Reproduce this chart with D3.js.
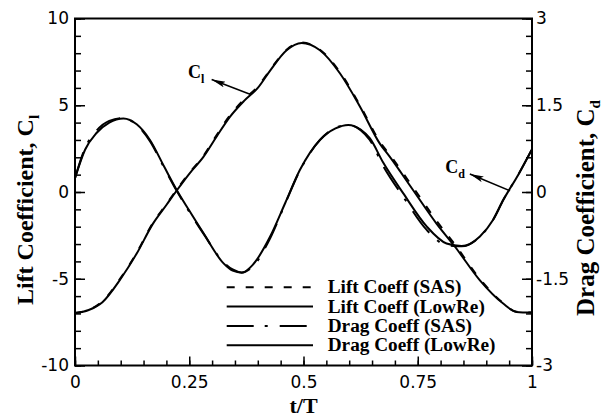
<!DOCTYPE html>
<html>
<head>
<meta charset="utf-8">
<script src="https://cdn.jsdelivr.net/npm/d3@7"></script>
<style>
  body { margin: 0; background: #fff; }
  svg { display: block; }
</style>
</head>
<body>
<svg id="chart"></svg>
<script>
// time (t/T) and values
var liftT     = [0, 0.03, 0.06, 0.1, 0.135, 0.17, 0.2, 0.223, 0.25, 0.281, 0.31, 0.339, 0.37, 0.4, 0.427, 0.463, 0.496, 0.536, 0.58, 0.624, 0.667, 0.689, 0.74, 0.791, 0.832, 0.886, 0.937, 0.966, 1];
var liftLowRe = [-6.98, -6.8, -6.35, -5.0, -3.55, -1.85, -0.75, 0.1, 1.05, 2.02, 3.2, 4.33, 5.25, 6.0, 7.0, 8.17, 8.59, 8.17, 6.83, 4.9, 2.79, 2.02, 0.1, -1.82, -3.17, -5.09, -6.43, -6.91, -6.95];
var liftSAS   = [-6.98, -6.8, -6.3, -4.95, -3.5, -1.8, -0.7, 0.15, 1.1, 2.08, 3.28, 4.42, 5.33, 6.08, 7.04, 8.2, 8.62, 8.2, 6.9, 4.98, 2.9, 2.14, 0.26, -1.66, -3.05, -5.02, -6.4, -6.9, -6.95];

var dragT     = [0, 0.022, 0.047, 0.075, 0.106, 0.135, 0.164, 0.195, 0.2225, 0.25, 0.281, 0.3246, 0.345, 0.365, 0.39, 0.427, 0.46, 0.492, 0.536, 0.57, 0.598, 0.625, 0.645, 0.675, 0.718, 0.77, 0.813, 0.846, 0.886, 0.915, 0.937, 0.97, 1];
var dragLowRe = [0.24, 0.73, 1.02, 1.2, 1.27, 1.17, 0.9, 0.44, 0.035, -0.32, -0.71, -1.23, -1.36, -1.395, -1.25, -0.77, -0.19, 0.38, 0.9, 1.1, 1.16, 1.08, 0.93, 0.5, -0.02, -0.6, -0.89, -0.934, -0.77, -0.48, -0.14, 0.3, 0.74];
var dragSAS   = [0.24, 0.76, 1.06, 1.23, 1.28, 1.16, 0.88, 0.42, 0.02, -0.34, -0.72, -1.21, -1.34, -1.39, -1.28, -0.8, -0.2, 0.37, 0.9, 1.11, 1.16, 1.07, 0.9, 0.44, -0.08, -0.66, -0.92, -0.94, -0.77, -0.48, -0.14, 0.3, 0.74];

var xTicks = [0, 0.25, 0.5, 0.75, 1];
var leftTicks = [-10, -5, 0, 5, 10];
var rightTicks = [-3, -1.5, 0, 1.5, 3];

var legendLabels = ["Lift Coeff (SAS)", "Lift Coeff (LowRe)", "Drag Coeff (SAS)", "Drag Coeff (LowRe)"];

var width = 604, height = 417;
var margin = { top: 18.5, right: 72, bottom: 51.5, left: 75 };
var w = width - margin.left - margin.right;
var h = height - margin.top - margin.bottom;

var svg = d3.select("#chart")
  .attr("width", width)
  .attr("height", height);

var g = svg.append("g")
  .attr("transform", "translate(" + margin.left + "," + margin.top + ")");

var x = d3.scaleLinear().domain([0, 1]).range([0, w]);
var yL = d3.scaleLinear().domain([-10, 10]).range([h, 0]);
var yR = d3.scaleLinear().domain([-3, 3]).range([h, 0]);

var fmt = function(d) { return String(d); };

// minor ticks
g.append("g")
  .attr("transform", "translate(0," + h + ")")
  .call(d3.axisBottom(x).tickValues(d3.range(0, 1.0001, 0.05)).tickSize(-5).tickSizeOuter(0).tickFormat(""));
g.append("g")
  .call(d3.axisLeft(yL).tickValues(d3.range(-10, 10.001, 1)).tickSize(-6).tickSizeOuter(0).tickFormat(""));
g.append("g")
  .attr("transform", "translate(" + w + ",0)")
  .call(d3.axisRight(yR).tickValues(d3.range(-3, 3.001, 0.3)).tickSize(-6).tickSizeOuter(0).tickFormat(""));

// major ticks + labels
g.append("g")
  .attr("class", "axis")
  .attr("transform", "translate(0," + h + ")")
  .call(d3.axisBottom(x).tickValues(xTicks).tickSize(-9).tickSizeOuter(0).tickPadding(10).tickFormat(fmt));
g.append("g")
  .attr("class", "axis")
  .call(d3.axisLeft(yL).tickValues(leftTicks).tickSize(-10).tickSizeOuter(0).tickPadding(6).tickFormat(fmt));
g.append("g")
  .attr("class", "axis")
  .attr("transform", "translate(" + w + ",0)")
  .call(d3.axisRight(yR).tickValues(rightTicks).tickSize(-10).tickSizeOuter(0).tickPadding(4).tickFormat(fmt));

g.selectAll(".tick line").attr("stroke", "#000").attr("stroke-width", 1.5);
g.selectAll(".domain").remove();
g.selectAll(".axis text")
  .attr("fill", "#000")
  .style("font-family", "'DejaVu Sans', sans-serif")
  .style("font-size", "17px");

// frame
g.append("rect")
  .attr("width", w)
  .attr("height", h)
  .attr("fill", "none")
  .attr("stroke", "#000")
  .attr("stroke-width", 2);

// curves
var liftLine = d3.line()
  .x(function(d) { return x(d[0]); })
  .y(function(d) { return yL(d[1]); })
  .curve(d3.curveMonotoneX);
var dragLine = d3.line()
  .x(function(d) { return x(d[0]); })
  .y(function(d) { return yR(d[1]); })
  .curve(d3.curveMonotoneX);

var series = [
  { line: liftLine, data: d3.zip(liftT, liftSAS), dash: "8,11" },
  { line: liftLine, data: d3.zip(liftT, liftLowRe), dash: null },
  { line: dragLine, data: d3.zip(dragT, dragSAS), dash: "27,11,3,12" },
  { line: dragLine, data: d3.zip(dragT, dragLowRe), dash: null }
];

series.forEach(function(s) {
  g.append("path")
    .datum(s.data)
    .attr("fill", "none")
    .attr("stroke", "#000")
    .attr("stroke-width", 2)
    .attr("stroke-dasharray", s.dash)
    .attr("d", s.line);
});

// legend
var legend = g.append("g").attr("transform", "translate(" + (226.7 - margin.left) + "," + (287.3 - margin.top) + ")");
legendLabels.forEach(function(label, i) {
  var row = legend.append("g").attr("transform", "translate(0," + (i * 19.3) + ")");
  row.append("line")
    .attr("x1", 0).attr("x2", 86.3)
    .attr("stroke", "#000")
    .attr("stroke-width", 2)
    .attr("stroke-dasharray", series[i].dash);
  row.append("text")
    .attr("transform", "translate(101,6)scale(1.07,1)")
    .style("font-family", "'Liberation Serif', 'Times New Roman', serif")
    .style("font-weight", "bold")
    .style("font-size", "18px")
    .text(label);
});

// annotations
svg.append("defs").append("marker")
  .attr("id", "arrow")
  .attr("viewBox", "0 0 14 6")
  .attr("refX", 14).attr("refY", 3)
  .attr("markerWidth", 14).attr("markerHeight", 6)
  .attr("markerUnits", "userSpaceOnUse")
  .attr("orient", "auto")
  .append("path")
  .attr("d", "M0,0 L14,3 L0,6 L3,3 Z")
  .attr("fill", "#000");

var serif = "'Liberation Serif', 'Times New Roman', serif";

function annotate(label, sub, pos, tail, head, yScale) {
  var t = g.append("text")
    .attr("x", x(pos[0]))
    .attr("y", yScale(pos[1]))
    .style("font-family", serif)
    .style("font-weight", "bold")
    .style("font-size", "18px")
    .text(label);
  t.append("tspan")
    .attr("dy", 5)
    .style("font-size", "12px")
    .text(sub);
  g.append("line")
    .attr("x1", x(tail[0])).attr("y1", yScale(tail[1]))
    .attr("x2", x(head[0])).attr("y2", yScale(head[1]))
    .attr("stroke", "#000")
    .attr("stroke-width", 1.5)
    .attr("marker-end", "url(#arrow)");
}

annotate("C", "l", [0.247, 6.56], [0.383, 5.63], [0.299, 6.48], yL);
annotate("C", "d", [0.81, 0.33], [0.952, 0.022], [0.864, 0.311], yR);

// axis titles
svg.append("text")
  .attr("transform", "translate(" + (x(0.5) + margin.left) + ",413)")
  .attr("text-anchor", "middle")
  .style("font-family", serif)
  .style("font-weight", "bold")
  .style("font-size", "22px")
  .text("t/T");

var lt = svg.append("text")
  .attr("transform", "translate(33,210)rotate(-90)")
  .attr("text-anchor", "middle")
  .style("font-family", serif)
  .style("font-weight", "bold")
  .style("font-size", "24px")
  .text("Lift Coefficient, C");
lt.append("tspan").attr("dy", 6).style("font-size", "15px").text("l");

var rt = svg.append("text")
  .attr("transform", "translate(594,208)rotate(-90)")
  .attr("text-anchor", "middle")
  .style("font-family", serif)
  .style("font-weight", "bold")
  .style("font-size", "25px")
  .text("Drag Coefficient, C");
rt.append("tspan").attr("dy", 6).style("font-size", "15px").text("d");
</script>
</body>
</html>
